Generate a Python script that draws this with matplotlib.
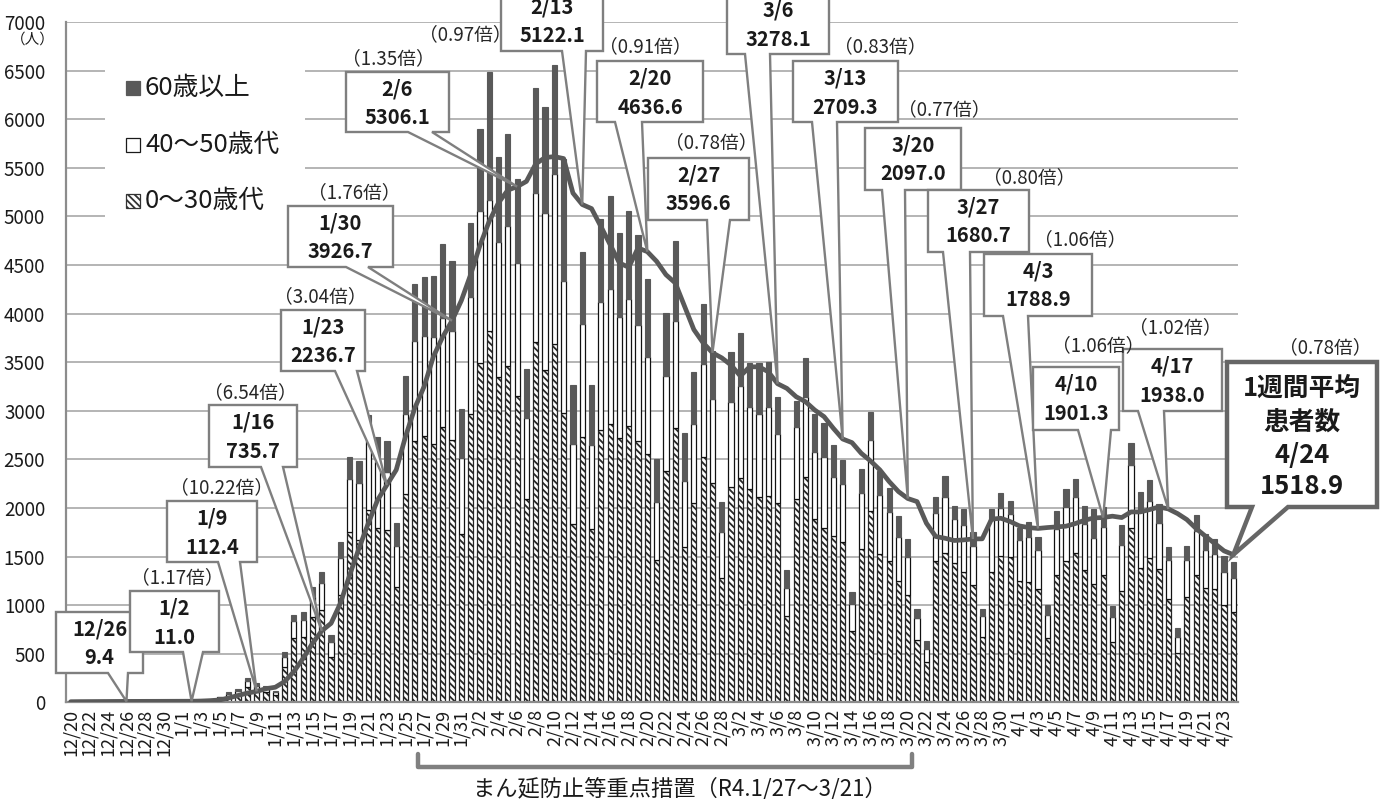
import matplotlib
matplotlib.use("Agg")
import matplotlib.pyplot as plt
import numpy as np
import pandas as pd
from matplotlib.patches import Polygon, Rectangle

plt.rcParams['font.family'] = ['Noto Sans CJK JP', 'DejaVu Sans']
plt.rcParams['hatch.linewidth'] = 1.3

W, H = 1387, 799

# 日付 12/20 〜 4/24
dates = pd.date_range('2021-12-20', '2022-04-24')
labels = [f"{d.month}/{d.day}" for d in dates]

# 0〜30歳代
young = [3, 6, 4, 5, 8, 4, 9, 6, 5, 8, 5, 8, 4, 10, 12, 18,
         38, 65, 85, 160, 125, 105, 75, 367, 659, 676, 881, 950, 470, 1104,
         1756, 1670, 1979, 1790, 1773, 1182, 2144, 2692, 2740, 2658, 2836, 2699,
         1733, 2962, 3493, 3820, 3350, 3460, 3151, 2089, 3709, 3418, 3685, 2979,
         1832, 2726, 1784, 2801, 2860, 2716, 2842, 2692, 2555, 1466, 2383, 2825,
         1603, 2055, 2527, 2260, 1277, 2219, 2312, 2195, 2117, 2127, 2048, 884,
         2093, 2322, 1884, 1798, 1716, 1647, 736, 1575, 1969, 1524, 1456, 1253,
         1106, 644, 411, 1456, 1541, 1432, 1339, 1209, 668, 1339, 1510, 1490,
         1243, 1233, 1170, 663, 1315, 1456, 1541, 1360, 1216, 1308, 623, 1144,
         1798, 1384, 1480, 1367, 1058, 510, 1079, 1315, 1171, 1161, 1000, 932]
# 40〜50歳代
mid = [1, 2, 1, 2, 3, 2, 3, 2, 2, 3, 2, 3, 2, 4, 5, 8,
       12, 25, 35, 55, 45, 40, 30, 103, 181, 171, 206, 281, 147, 378,
       542, 584, 721, 686, 600, 427, 818, 1030, 1024, 1099, 1114, 1119,
       777, 1206, 1559, 1350, 1386, 1437, 1369, 832, 1531, 1613, 1750, 1361,
       826, 1168, 863, 1316, 1394, 1246, 1309, 1195, 996, 599, 973, 1103,
       674, 805, 953, 856, 473, 874, 942, 846, 846, 914, 709, 291,
       743, 822, 695, 730, 606, 596, 274, 576, 730, 610, 506, 453,
       384, 222, 137, 489, 576, 455, 487, 401, 216, 538, 487, 449,
       422, 464, 397, 240, 466, 554, 572, 479, 470, 497, 250, 479,
       647, 575, 589, 483, 404, 165, 383, 449, 394, 370, 343, 349]
# 60歳以上
old = [1, 1, 1, 1, 1, 1, 2, 2, 2, 1, 1, 2, 1, 2, 3, 4,
       8, 16, 20, 32, 25, 23, 15, 44, 62, 86, 103, 114, 72, 168,
       223, 233, 257, 258, 319, 233, 394, 582, 615, 629, 770, 723,
       504, 765, 849, 1320, 870, 949, 867, 513, 1078, 1096, 1126, 1250,
       606, 743, 617, 856, 959, 867, 900, 921, 803, 435, 651, 819,
       497, 540, 620, 499, 308, 513, 541, 446, 524, 456, 380, 188,
       264, 401, 384, 342, 326, 250, 120, 250, 284, 246, 240, 215,
       192, 93, 79, 165, 212, 137, 164, 140, 78, 113, 161, 137,
       133, 158, 137, 95, 185, 189, 189, 178, 300, 205, 117, 199,
       227, 206, 215, 188, 138, 85, 148, 168, 165, 147, 164, 158]
# 1週間平均患者数
avg7 = [6, 7, 7.5, 8, 8.5, 9, 9.4, 9.5, 9.8, 10, 10.2, 10.5, 10.8, 11.0, 13, 17,
        24, 45, 70, 95, 112.4, 140, 155, 213, 316, 453, 607, 735.7, 813, 1019,
        1310, 1585, 1842, 2082, 2236.7, 2391, 2734, 3028, 3249, 3558, 3760, 3926.7,
        4133, 4400, 4700, 4950, 5140, 5270, 5306.1, 5360, 5540, 5605, 5615, 5595,
        5240, 5122.1, 5080, 4897, 4709, 4520, 4476, 4675, 4636.6, 4537, 4400, 4315,
        4075, 3835, 3698, 3596.6, 3544, 3470, 3357, 3452, 3452, 3401, 3278.1, 3230,
        3144, 3093, 3007, 2939, 2819, 2709.3, 2672, 2562, 2483, 2391, 2271, 2168,
        2097.0, 2065, 1843, 1706, 1688, 1665, 1671, 1680.7, 1682, 1884, 1894, 1860,
        1815, 1798, 1788.9, 1798, 1805, 1812, 1839, 1873, 1897, 1901.3, 1915, 1901,
        1959, 1959, 1983, 2010, 1990, 1942, 1880, 1788, 1709, 1634, 1558, 1518.9]

# 吹き出し: 日付, 値, 倍率
call_dates = ['12/26', '1/2', '1/9', '1/16', '1/23', '1/30', '2/6', '2/13', '2/20',
              '2/27', '3/6', '3/13', '3/20', '3/27', '4/3', '4/10', '4/17']
call_vals = ['9.4', '11.0', '112.4', '735.7', '2236.7', '3926.7', '5306.1', '5122.1',
             '4636.6', '3596.6', '3278.1', '2709.3', '2097.0', '1680.7', '1788.9',
             '1901.3', '1938.0']
call_ratio = [None, '1.17', '10.22', '6.54', '3.04', '1.76', '1.35', '0.97', '0.91',
              '0.78', None, '0.83', '0.77', '0.80', '1.06', '1.06', '1.02']
# 箱の位置 (x0, x1, 上, 下, 根元x0, 根元x1) と倍率ラベル位置 (ピクセル)
boxes = [(56, 143, 612, 673, 108, 128), (130, 219, 591, 652, 183, 203),
         (167, 257, 501, 562, 218, 240), (209, 297, 405, 467, 261, 283),
         (281, 365, 310, 371, 335, 357), (288, 393, 206, 267, 346, 368),
         (346, 449, 72, 132, 408, 432), (501, 603, -10, 51, 562, 586),
         (597, 703, 61, 122, 615, 642), (648, 749, 158, 220, 707, 730),
         (727, 829, -7, 54, 745, 770), (793, 898, 61, 122, 812, 837),
         (865, 961, 128, 190, 882, 905), (928, 1029, 190, 252, 943, 970),
         (984, 1092, 254, 316, 1003, 1028), (1033, 1119, 367, 430, 1078, 1111),
         (1123, 1222, 349, 411, 1138, 1164)]
ratio_pos = [None, (177, 578), (222, 488), (250, 393), (320, 297), (354, 193),
             (388, 59), (465, 35), (645, 47), (711, 143), None, (880, 47),
             (944, 110), (1029, 178), (1080, 240), (1098, 346), (1175, 328)]

fig = plt.figure(figsize=(W / 100, H / 100), dpi=100)
ax = fig.add_axes([66 / W, 1 - 702.3 / H, 1172 / W, 680.3 / H])

x = np.arange(len(labels))
young = np.array(young)
mid = np.array(mid)
old = np.array(old)
bw = 0.56
ax.bar(x, young, bw, color='white', edgecolor='#262626', hatch='\\\\\\\\\\', lw=0.9, zorder=2)
ax.bar(x, mid, bw, bottom=young, color='white', edgecolor='#111111', lw=0.9, zorder=2)
ax.bar(x, old, bw, bottom=young + mid, color='#595959', edgecolor='#595959', lw=0.8, zorder=2)
ax.plot(x, avg7, color='#595959', lw=3.4, zorder=3, solid_joinstyle='round', solid_capstyle='round')

ax.set_xlim(-0.5, len(x) - 0.5)
ax.set_ylim(0, 7000)
ax.set_yticks(range(0, 7001, 500))
ax.yaxis.grid(True, color='#a0a0a0', lw=1.1)
ax.set_axisbelow(True)
ax.set_xticks(x[::2])
ax.set_xticklabels(labels[::2], rotation=90, fontsize=13, color='#1a1a1a')
ax.tick_params(axis='y', labelsize=13.5, labelcolor='#1a1a1a', length=0, pad=15)
ax.tick_params(axis='x', length=0, pad=5)
for s in ['top', 'right']:
    ax.spines[s].set_visible(False)
for s in ['left', 'bottom']:
    ax.spines[s].set_color('#8c8c8c')
    ax.spines[s].set_linewidth(1.6)

# 重ね描き用 (ピクセル座標, 上が0)
ov = fig.add_axes([0, 0, 1, 1], zorder=5)
ov.set_xlim(0, W)
ov.set_ylim(H, 0)
ov.axis('off')
ov.patch.set_visible(False)


def px(i, v):
    dx, dy = ax.transData.transform((i, v))
    return dx, H - dy


def callout(x0, x1, y0, y1, b0, b1, tip, lw=1.7, ec='#7f7f7f'):
    pts = [(x0, y0), (x1, y0), (x1, y1), (b1, y1), tip, (b0, y1), (x0, y1)]
    ov.add_patch(Polygon(pts, closed=True, fc='white', ec=ec, lw=lw, joinstyle='miter'))


# 凡例
ov.add_patch(Rectangle((105, 62), 200, 166, fc='white', ec='none'))
leg_items = [('60歳以上', dict(fc='#595959', ec='#595959')),
             ('40〜50歳代', dict(fc='white', ec='#1a1a1a')),
             ('0〜30歳代', dict(fc='white', ec='#333333', hatch='\\\\\\\\\\'))]
for k, (txt, st) in enumerate(leg_items):
    yc = 88 + k * 56.5
    ov.add_patch(Rectangle((126, yc - 7), 14, 14, lw=0.9, **st))
    ov.text(145, yc, txt, fontsize=18.5, va='center', ha='left', color='#1a1a1a')

ov.text(33, 40, '（人）', fontsize=10.5, ha='center', va='center', color='#1a1a1a')

# 吹き出し
for k, d in enumerate(call_dates):
    i = labels.index(d)
    x0, x1, y0, y1, b0, b1 = boxes[k]
    callout(x0, x1, y0, y1, b0, b1, px(i, avg7[i]))
    xc = (x0 + x1) / 2
    ov.text(xc, y0 + 17, d, fontsize=14.5, fontweight='bold', ha='center', va='center', color='#1a1a1a')
    ov.text(xc, y0 + 46, call_vals[k], fontsize=14.5, fontweight='bold', ha='center', va='center', color='#1a1a1a')
    if ratio_pos[k] is not None:
        ov.text(*ratio_pos[k], f'（{call_ratio[k]}倍）', fontsize=13.5, ha='center', va='center', color='#262626')

# 最新の1週間平均
i_last = len(labels) - 1
callout(1227, 1377, 362, 507, 1252, 1288, px(i_last, avg7[i_last]), lw=3.2, ec='#666666')
for yy, t in zip([388, 422, 455, 487], ['1週間平均', '患者数', labels[i_last], '1518.9']):
    ov.text(1302, yy, t, fontsize=18.5, fontweight='bold', ha='center', va='center', color='#1a1a1a')
ov.text(1325, 348, '（0.78倍）', fontsize=13.5, ha='center', va='center', color='#262626')

# まん延防止等重点措置の期間
bl = px(labels.index('1/27') - 0.7, 0)[0]
br = px(labels.index('3/21') - 0.55, 0)[0]
ov.plot([bl, bl, br, br], [754, 767, 767, 754], color='#808080', lw=3.2,
        solid_joinstyle='round', solid_capstyle='round')
ov.text((bl + br) / 2 + 15, 789, 'まん延防止等重点措置（R4.1/27〜3/21）', fontsize=16,
        ha='center', va='center', color='#1a1a1a')

fig.savefig('out.png', dpi=100)
